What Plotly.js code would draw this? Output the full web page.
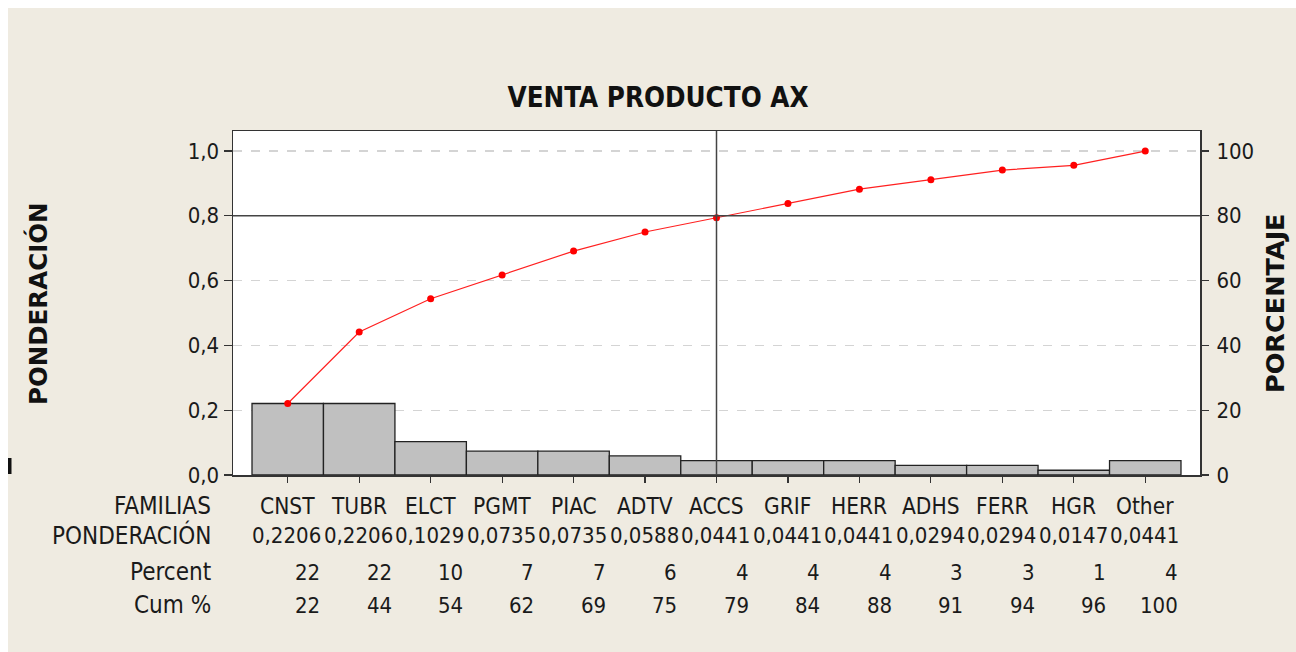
<!DOCTYPE html>
<html>
<head>
<meta charset="utf-8">
<script src="https://cdn.plot.ly/plotly-3.0.1.min.js"></script>
<style>html,body{margin:0;padding:0;background:#efebe1;}#chart{width:1296px;height:652px;}</style>
</head>
<body>
<div id="chart"></div>
<script>
const familias = ['CNST','TUBR','ELCT','PGMT','PIAC','ADTV','ACCS','GRIF','HERR','ADHS','FERR','HGR','Other'];
const ponderacion = [0.2206,0.2206,0.1029,0.0735,0.0735,0.0588,0.0441,0.0441,0.0441,0.0294,0.0294,0.0147,0.0441];
const percent = [22,22,10,7,7,6,4,4,4,3,3,1,4];
const cumPct = [22,44,54,62,69,75,79,84,88,91,94,96,100];
const rowLabels = ['FAMILIAS','PONDERACIÓN','Percent','Cum %'];
const yTicks = [0,0.2,0.4,0.6,0.8,1.0];
const y2Ticks = [0,20,40,60,80,100];
const refFamily = 'ACCS';
const refLevel = 0.8;

const idx = familias.map((_, i) => i);
let acc = 0;
const cumLine = ponderacion.map(v => { acc += v; return acc * 100; });

const TXT = 'DejaVu Sans Condensed, DejaVu Sans, sans-serif';
const W = 1296, H = 652, L = 233, R = 1200, T = 131, B = 475;
const px2x = p => (p - L) / (R - L);
const py2y = p => (B - p) / (B - T);
const INK = '#1a1a1a';

const bars = {
  type: 'bar', x: idx, y: ponderacion, width: 1,
  marker: {color: '#c0c0c0', line: {color: '#222', width: 1.3}},
  hoverinfo: 'skip', showlegend: false
};
const line = {
  type: 'scatter', mode: 'lines+markers', x: idx, y: cumLine, yaxis: 'y2',
  line: {color: '#ff2020', width: 1.2},
  marker: {color: '#ff0000', size: 7},
  hoverinfo: 'skip', showlegend: false
};

const annotations = [];
const rowY = [506, 535, 572, 605];
rowLabels.forEach((t, r) => {
  annotations.push({xref: 'paper', yref: 'paper', x: px2x(213), y: py2y(rowY[r]),
    xanchor: 'right', yanchor: 'middle', text: t, showarrow: false,
    font: {family: TXT, size: 24, color: INK}});
});
familias.forEach((f, i) => {
  annotations.push({xref: 'x', yref: 'paper', x: i, y: py2y(rowY[0]), xanchor: 'center', yanchor: 'middle',
    text: f, showarrow: false, font: {family: TXT, size: 22.5, color: INK}});
  annotations.push({xref: 'x', yref: 'paper', x: i + 0.5, y: py2y(rowY[1]), xanchor: 'right', yanchor: 'middle',
    text: ponderacion[i].toFixed(4).replace('.', ','), showarrow: false, font: {family: TXT, size: 22, color: INK}});
  annotations.push({xref: 'x', yref: 'paper', x: i + 0.48, y: py2y(rowY[2]), xanchor: 'right', yanchor: 'middle',
    text: String(percent[i]), showarrow: false, font: {family: TXT, size: 22, color: INK}});
  annotations.push({xref: 'x', yref: 'paper', x: i + 0.48, y: py2y(rowY[3]), xanchor: 'right', yanchor: 'middle',
    text: String(cumPct[i]), showarrow: false, font: {family: TXT, size: 22, color: INK}});
});
annotations.push({xref: 'paper', yref: 'paper', x: px2x(38), y: py2y(304), xanchor: 'center', yanchor: 'middle',
  text: '<b>PONDERACIÓN</b>', textangle: -90, showarrow: false, font: {family: 'DejaVu Sans, sans-serif', size: 24.5, color: '#111'}});
annotations.push({xref: 'paper', yref: 'paper', x: px2x(1275), y: py2y(303), xanchor: 'center', yanchor: 'middle',
  text: '<b>PORCENTAJE</b>', textangle: -90, showarrow: false, font: {family: 'DejaVu Sans, sans-serif', size: 25.5, color: '#111'}});

const shapes = [
  {type: 'line', xref: 'paper', yref: 'y', x0: 0, x1: 1, y0: refLevel, y1: refLevel, layer: 'above', line: {color: '#444', width: 1.5}},
  {type: 'line', xref: 'x', yref: 'paper', x0: familias.indexOf(refFamily), x1: familias.indexOf(refFamily), y0: 0, y1: 1, layer: 'above', line: {color: '#444', width: 1.5}},
  {type: 'rect', xref: 'paper', yref: 'paper', x0: px2x(0), x1: px2x(W), y0: py2y(0), y1: py2y(8), fillcolor: '#ffffff', line: {width: 0}, layer: 'below'},
  {type: 'rect', xref: 'paper', yref: 'paper', x0: px2x(0), x1: px2x(8), y0: py2y(0), y1: py2y(H), fillcolor: '#ffffff', line: {width: 0}, layer: 'below'},
  {type: 'rect', xref: 'paper', yref: 'paper', x0: px2x(8), x1: px2x(11.5), y0: py2y(458), y1: py2y(474), fillcolor: '#111', line: {width: 0}, layer: 'above'}
];

const layout = {
  width: W, height: H,
  margin: {l: L, r: W - R, t: T, b: H - B, pad: 0},
  paper_bgcolor: '#efebe1', plot_bgcolor: '#ffffff',
  separators: ',.',
  title: {text: '<b>VENTA PRODUCTO AX</b>', xref: 'container', yref: 'container', x: 658 / W, y: 1 - 97 / H,
    xanchor: 'center', yanchor: 'middle', font: {family: TXT, size: 27.5, color: '#111'}},
  xaxis: {range: [-0.766, familias.length - 1 + 0.766], tickvals: idx, showticklabels: false,
    ticks: 'outside', ticklen: 6, tickcolor: '#333', tickwidth: 1.2,
    showline: true, linecolor: '#333', linewidth: 1.5, mirror: true, showgrid: false, zeroline: false, fixedrange: true},
  yaxis: {range: [0, 1.0617], tickvals: yTicks, tickformat: '.1f', ticks: 'outside', ticklen: 8, tickcolor: '#333', tickwidth: 1.2,
    showline: true, linecolor: '#333', linewidth: 1.5, mirror: true,
    showgrid: true, gridcolor: '#d4d4d4', griddash: 'dash', gridwidth: 1.2, zeroline: false,
    tickfont: {family: TXT, size: 22, color: INK}, fixedrange: true},
  yaxis2: {range: [0, 106.17], overlaying: 'y', side: 'right', tickvals: y2Ticks, ticks: 'outside', ticklen: 8,
    tickcolor: '#333', tickwidth: 1.2, showgrid: false, zeroline: false, showline: false, ticklabelstandoff: 3,
    tickfont: {family: TXT, size: 22, color: INK}, fixedrange: true},
  bargap: 0,
  annotations: annotations,
  shapes: shapes,
  showlegend: false
};

Plotly.newPlot('chart', [bars, line], layout, {displayModeBar: false, staticPlot: true});
</script>
</body>
</html>
